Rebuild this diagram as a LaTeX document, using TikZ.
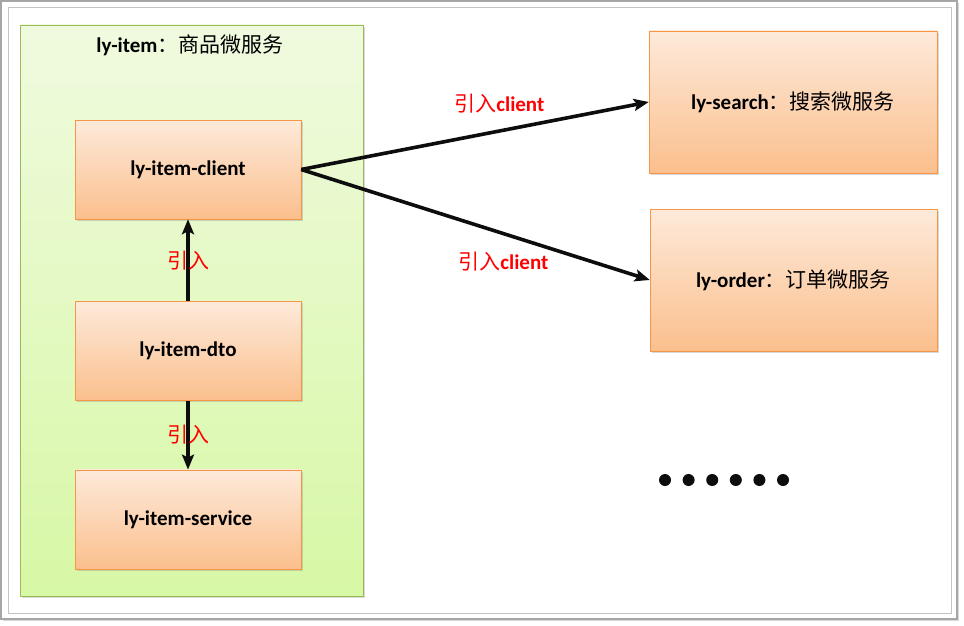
\documentclass[tikz,border=0pt]{standalone}
\usepackage{fontspec}
\setmainfont{Carlito}
\newfontfamily\cjk{Noto Sans CJK SC}
\usepackage{xcolor}
\definecolor{BoxTop}{HTML}{FDEADA}
\definecolor{BoxBottom}{HTML}{FBBF8D}
\definecolor{BoxLine}{HTML}{F79646}
\definecolor{GroupTop}{HTML}{F0FADF}
\definecolor{GroupBottom}{HTML}{D7F8A5}
\definecolor{GroupLine}{HTML}{9BBB59}
\definecolor{FrameGray}{HTML}{A6A6A6}
\definecolor{InnerGray}{HTML}{C4C4C4}
\usepackage{tikz}
\usetikzlibrary{positioning, arrows.meta, shadows}
\newcommand{\txtsize}{\fontsize{21pt}{25pt}\selectfont}

\begin{document}
\begin{tikzpicture}[
    x=1pt, y=-1pt,
    softshadow/.style={drop shadow={opacity=0.3, shadow xshift=2pt, shadow yshift=-2pt}},
    group/.style={draw=GroupLine, top color=GroupTop, bottom color=GroupBottom,
                  minimum width=343pt, minimum height=571pt, softshadow},
    modbox/.style={draw=BoxLine, top color=BoxTop, bottom color=BoxBottom,
                   minimum width=226pt, minimum height=99pt, softshadow,
                   font=\txtsize\bfseries},
    svcbox/.style={modbox, minimum width=288pt, minimum height=142pt},
    arr/.style={-{Stealth[length=15pt, width=12pt, inset=3pt]}, line width=3.6pt, color=black!95},
    lbl/.style={text=red, font=\txtsize\bfseries, inner sep=0pt},
    dotmark/.style={circle, fill=black!95, minimum size=12pt, inner sep=0pt}
  ]
    \useasboundingbox (0,0) rectangle (964,626);
    % outer frame
    \draw[FrameGray, line width=1.5pt, fill=white, softshadow] (1,1) rectangle (957,619);
    \draw[InnerGray, line width=1pt] (8,8) rectangle (951,613);

    % ly-item group
    \node[group] (item) at (191.5,310.5) {};
    \node[font=\txtsize\bfseries] (itemtitle) at (190,45) {ly-item{\cjk\mdseries ：商品微服务}};

    \node[modbox] (client) at (188,169.5) {ly-item-client};
    \node[modbox, below=82pt of client] (dto) {ly-item-dto};
    \node[modbox, below=69pt of dto] (service) {ly-item-service};

    % other services
    \node[svcbox] (search) at (793,102) {ly-search{\cjk\mdseries ：搜索微服务}};
    \node[svcbox, minimum width=287pt] (order) at (793.5,280) {ly-order{\cjk\mdseries ：订单微服务}};

    \draw[arr] (dto.north) -- node[lbl] {{\cjk\mdseries 引入}} (client.south);
    \draw[arr] (dto.south) -- node[lbl] {{\cjk\mdseries 引入}} (service.north);
    \draw[arr] (client.east) -- node[lbl, pos=0.57, above=16pt] {{\cjk\mdseries 引入}client} (search.west);
    \draw[arr] (client.east) -- node[lbl, pos=0.58, below=17pt] {{\cjk\mdseries 引入}client} (order.west);

    % more services
    \foreach \i in {0,...,5}
      \node[dotmark] (dot\i) at (665+23.6*\i,480) {};
  \end{tikzpicture}
\end{document}
